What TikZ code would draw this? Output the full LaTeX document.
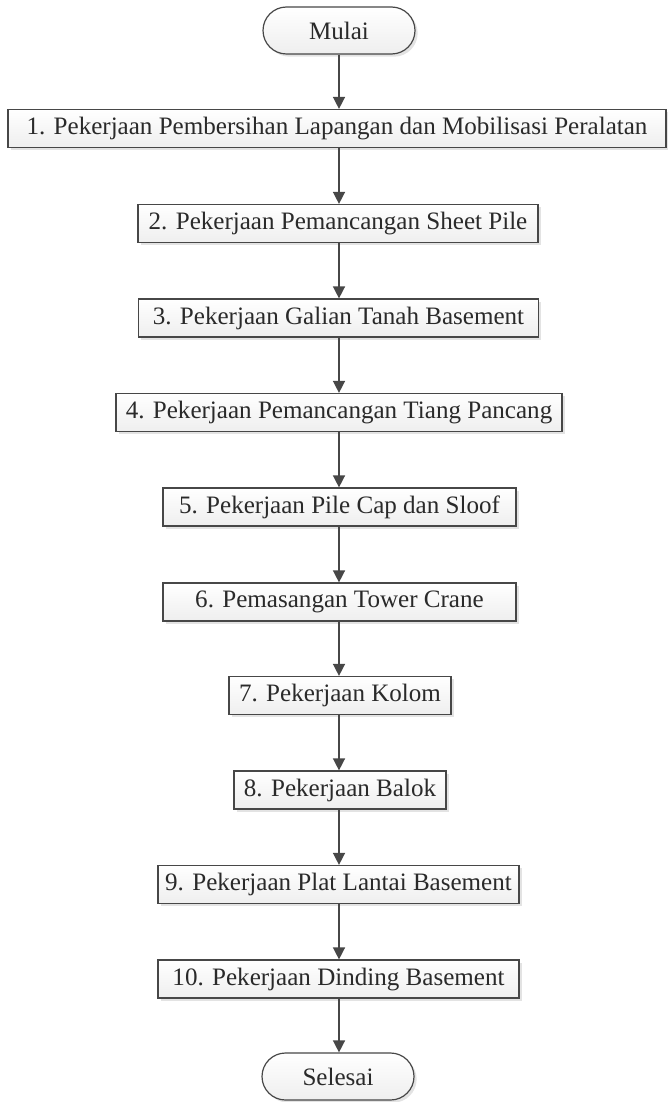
\documentclass[tikz,border=0pt]{standalone}
\usepackage{fontspec}
\setmainfont{Liberation Serif}
\usetikzlibrary{arrows.meta,shadows,shapes.misc}
\definecolor{ink}{HTML}{2A2A2A}
\definecolor{edge}{HTML}{474747}
\begin{document}
\begin{tikzpicture}[x=0.75pt,y=-0.75pt,
  base/.style={draw=edge, line width=0.9pt, text=ink,
    font=\fontsize{18.8}{22}\selectfont,
    top color=white, bottom color=gray!13,
    drop shadow={shadow xshift=2pt, shadow yshift=-2pt, opacity=0.22, fill=gray},
    inner sep=0pt, minimum height=28.5pt},
  stepbox/.style={base, rectangle},
  terminal/.style={base, rounded rectangle, minimum width=114pt, minimum height=35.25pt},
  flow/.style={draw=edge, line width=1.1pt, -{Triangle[width=9pt,length=9pt]}}]
\useasboundingbox (0,0) rectangle (667,1102);

% start and end terminals
\node[terminal] (start) at (339,30.5) {Mulai};
\node[terminal] (stop) at (338,1076.5) {Selesai};

% work steps
\node[stepbox, minimum width=493.5pt] (s1) at (337,128.5) {1. Pekerjaan Pembersihan Lapangan dan Mobilisasi Peralatan};
\node[stepbox, minimum width=300pt] (s2) at (338,223.5) {2. Pekerjaan Pemancangan Sheet Pile};
\node[stepbox, minimum width=300pt] (s3) at (338.5,318) {3. Pekerjaan Galian Tanah Basement};
\node[stepbox, minimum width=334.5pt] (s4) at (339,412.5) {4. Pekerjaan Pemancangan Tiang Pancang};
\node[stepbox, minimum width=264.75pt] (s5) at (339.5,507) {5. Pekerjaan Pile Cap dan Sloof};
\node[stepbox, minimum width=264.75pt] (s6) at (339.5,602) {6. Pemasangan Tower Crane};
\node[stepbox, minimum width=166.5pt] (s7) at (340,695.5) {7. Pekerjaan Kolom};
\node[stepbox, minimum width=159pt] (s8) at (340,790) {8. Pekerjaan Balok};
\node[stepbox, minimum width=270.75pt] (s9) at (338.5,884.5) {9. Pekerjaan Plat Lantai Basement};
\node[stepbox, minimum width=270.75pt] (s10) at (338.5,979) {10. Pekerjaan Dinding Basement};

% connectors
\draw[flow] (start.south -| 339,0) -- (s1.north -| 339,0);
\draw[flow] (s1.south -| 339,0) -- (s2.north -| 339,0);
\draw[flow] (s2.south -| 339,0) -- (s3.north -| 339,0);
\draw[flow] (s3.south -| 339,0) -- (s4.north -| 339,0);
\draw[flow] (s4.south -| 339,0) -- (s5.north -| 339,0);
\draw[flow] (s5.south -| 339,0) -- (s6.north -| 339,0);
\draw[flow] (s6.south -| 339,0) -- (s7.north -| 339,0);
\draw[flow] (s7.south -| 339,0) -- (s8.north -| 339,0);
\draw[flow] (s8.south -| 339,0) -- (s9.north -| 339,0);
\draw[flow] (s9.south -| 339,0) -- (s10.north -| 339,0);
\draw[flow] (s10.south -| 339,0) -- (stop.north -| 339,0);
\end{tikzpicture}
\end{document}
